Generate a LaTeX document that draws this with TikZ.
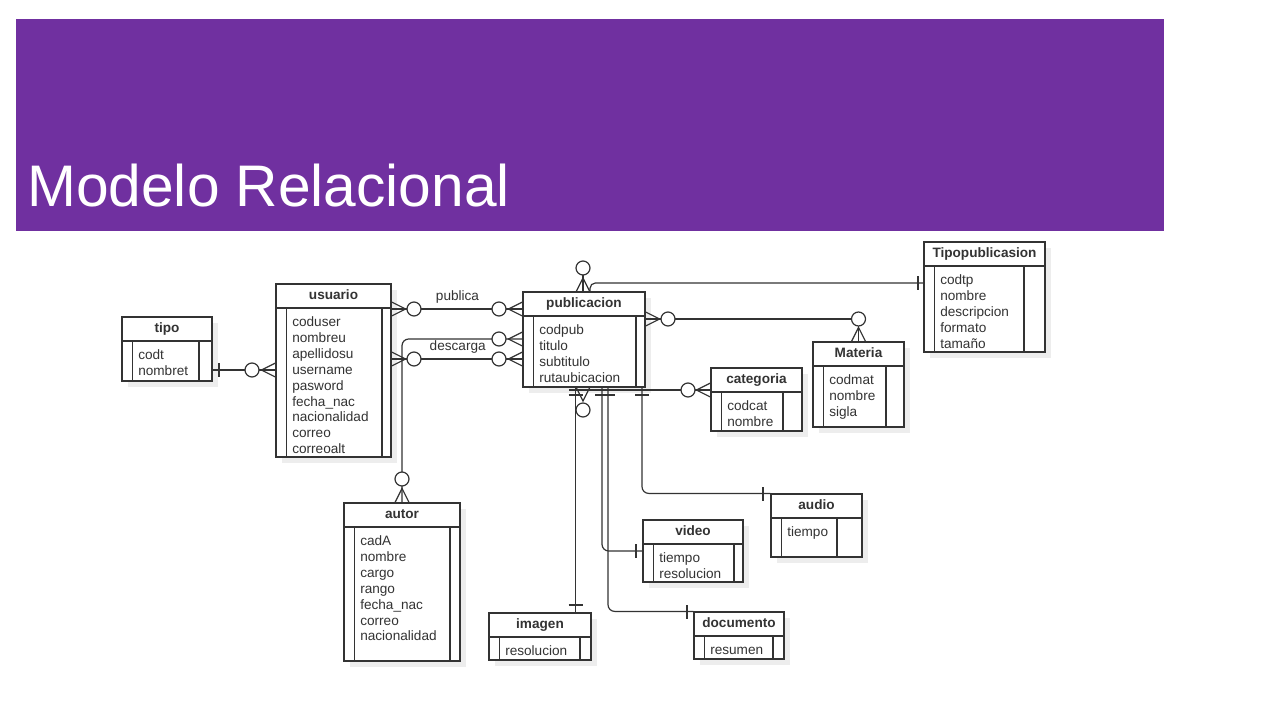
\documentclass[tikz,border=0pt]{standalone}
\usepackage{fontspec}
\setmainfont{Liberation Sans}
\usepackage{xcolor}
\usetikzlibrary{positioning,fit}
\definecolor{morado}{HTML}{7030A0}
\definecolor{tinta}{HTML}{333333}

% nombre, x1, y1, x2, y2, linea interior derecha, titulo, campos
\newcommand{\entidad}[8]{%
  \fill[sombra] ({#2+6},{#3+6}) rectangle ({#4+6},{#5+6});
  \node[caja, fit={(#2,#3) (#4,#5)}] (#1) {};
  \draw[borde] (#2,{#3+24}) -- (#4,{#3+24});
  \draw[borde] ({#2+10.5},{#3+24}) -- ({#2+10.5},#5);
  \draw[borde] (#6,{#3+24}) -- (#6,#5);
  \node[titulo] (#1-t) at ({(#2+#4)/2},{#3+15.5}) {#7};
  \foreach \campo [count=\i] in {#8}
    \node[atributo] (#1-\i) at ({#2+16},{#3+42.5+(\i-1)*15.9}) {\campo};
}
\newcommand{\patas}[2]{\draw[conector, shift={#1}, rotate=#2] (0,-7) -- (14,0) -- (0,7);}
\newcommand{\barra}[2]{\draw[conector, shift={#1}, rotate=#2] (0,-7) -- (0,7);}
\newcommand{\aro}[1]{\draw[conector, fill=white] #1 circle[radius=7];}

\begin{document}
\begin{tikzpicture}[x=0.75pt, y=-0.75pt,
  conector/.style={draw=tinta, line width=0.9pt},
  borde/.style={draw=tinta, line width=0.9pt},
  caja/.style={rectangle, draw=tinta, line width=0.9pt, fill=white, inner sep=0pt},
  sombra/.style={fill=black!7},
  titulo/.style={font=\bfseries\fontsize{10.2}{12}\selectfont, text=tinta, anchor=base, inner sep=0pt},
  atributo/.style={font=\fontsize{10.2}{12}\selectfont, text=tinta, anchor=base west, inner sep=0pt},
  etiqueta/.style={font=\fontsize{10.2}{12}\selectfont, text=tinta, anchor=base, inner sep=0pt}]

\fill[white] (0,0) rectangle (1280,720);
\useasboundingbox (0,0) rectangle (1280,720);

\fill[morado] (16,19) rectangle (1164,231);
\node[anchor=base west, inner sep=0pt, text=white, font=\fontsize{44}{50}\selectfont] (cabecera) at (27,207) {Modelo Relacional};

\entidad{tipo}{122}{317}{212}{381}{199}{tipo}{codt,nombret}
\entidad{usuario}{276}{284}{391}{457}{382}{usuario}{coduser,nombreu,apellidosu,username,pasword,fecha\_nac,nacionalidad,correo,correoalt}
\entidad{publicacion}{523}{292}{645}{387}{636}{publicacion}{codpub,titulo,subtitulo,rutaubicacion}
\entidad{Tipopublicasion}{924}{242}{1045}{352}{1024}{Tipopublicasion}{codtp,nombre,descripcion,formato,tamaño}
\entidad{Materia}{813}{342}{904}{427}{886}{Materia}{codmat,nombre,sigla}
\entidad{categoria}{711}{368}{802}{431}{783}{categoria}{codcat,nombre}
\entidad{autor}{344}{503}{460}{661}{450}{autor}{cadA,nombre,cargo,rango,fecha\_nac,correo,nacionalidad}
\entidad{imagen}{489}{613}{591}{660}{580}{imagen}{resolucion}
\entidad{video}{643}{520}{743}{582}{734}{video}{tiempo,resolucion}
\entidad{audio}{771}{494}{862}{557}{837}{audio}{tiempo}
\entidad{documento}{694}{612}{784}{659}{773}{documento}{resumen}

% tipo - usuario
\draw[conector] (tipo.east |- 0,370) -- (usuario.west |- 0,370);
\barra{(219,370)}{0}
\aro{(252,370)}
\patas{(usuario.west |- 0,370)}{180}

% publica
\draw[conector] (usuario.east |- 0,309) -- (publicacion.west |- 0,309);
\patas{(usuario.east |- 0,309)}{0}
\aro{(414,309)}
\aro{(499,309)}
\patas{(publicacion.west |- 0,309)}{180}
\node[etiqueta] (publica) at (457.5,300) {publica};

% descarga
\draw[conector] (usuario.east |- 0,359) -- (publicacion.west |- 0,359);
\patas{(usuario.east |- 0,359)}{0}
\aro{(414,359)}
\aro{(499,359)}
\patas{(publicacion.west |- 0,359)}{180}
\node[etiqueta] (descarga) at (457.7,350) {descarga};

% autor - publicacion
\draw[conector, rounded corners=5pt] (publicacion.west |- 0,339) -| (autor.north);
\aro{(499,339)}
\patas{(publicacion.west |- 0,339)}{180}
\aro{(402,479)}
\patas{(autor.north)}{90}

% publicacion - Tipopublicasion
\draw[conector, rounded corners=4pt] (Tipopublicasion.west |- 0,283) -| (590,292);
\barra{(918,283)}{0}
\draw[conector] (583,292) -- (583,275);
\patas{(583,292)}{90}
\aro{(583,268)}

% publicacion - Materia
\draw[conector] (publicacion.east |- 0,319) -| (Materia.north);
\patas{(publicacion.east |- 0,319)}{0}
\aro{(668,319)}
\aro{(858.5,319)}
\patas{(Materia.north)}{90}

% publicacion - categoria
\coordinate (codo) at (569,390);
\draw[conector] (codo) -- (categoria.west |- codo);
\aro{(688,390)}
\patas{(categoria.west |- 0,390)}{180}
\patas{(583,387)}{270}
\aro{(583,410)}

% subtipos
\draw[conector] (publicacion.south -| 575.5,0) -- (imagen.north -| 575.5,0);
\draw[conector, rounded corners=5pt] (publicacion.south -| 602,0) |- (video.west);
\draw[conector, rounded corners=5pt] (publicacion.south -| 608,0) |- (documento.north west);
\draw[conector, rounded corners=5pt] (publicacion.south -| 642,0) |- (audio.north west);
\barra{(575.5,395)}{90}
\barra{(602,395)}{90}
\barra{(608,395)}{90}
\barra{(642,395)}{90}
\barra{(575.5,605)}{90}
\barra{(636,551)}{0}
\barra{(687,612)}{0}
\barra{(763,494)}{0}
\end{tikzpicture}
\end{document}
